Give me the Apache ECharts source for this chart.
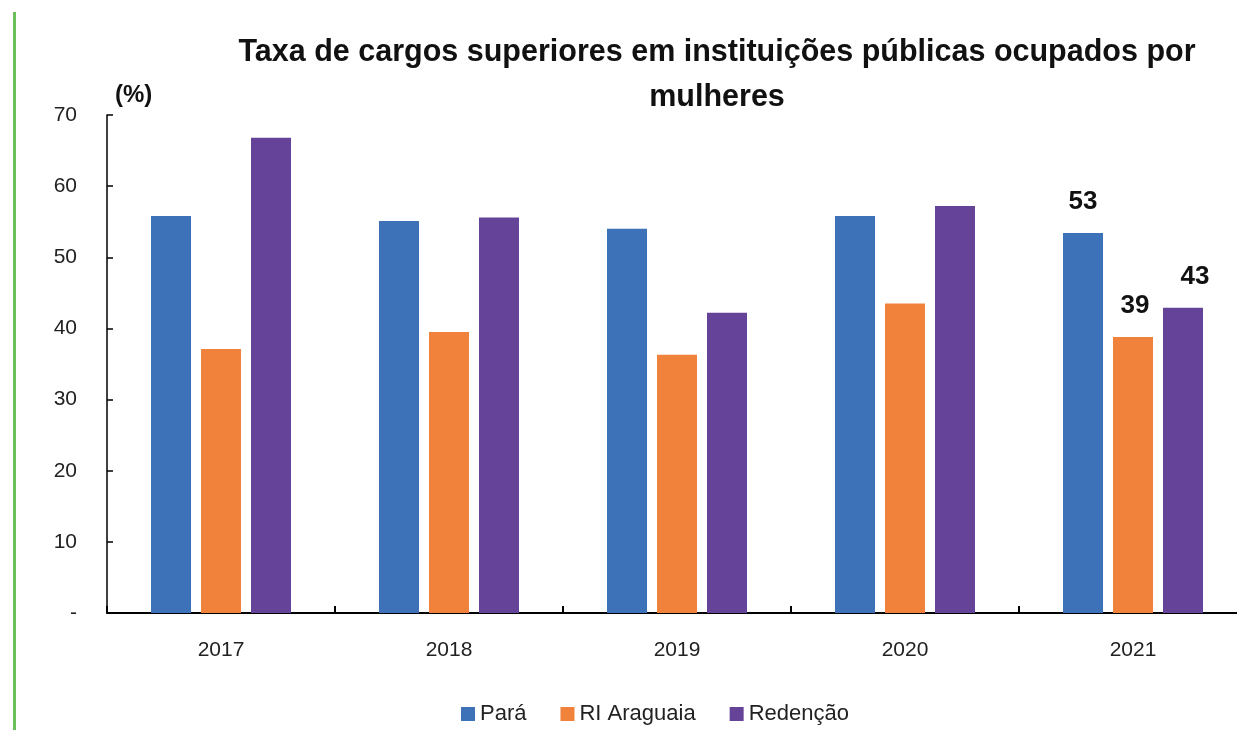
<!DOCTYPE html>
<html>
<head>
<meta charset="utf-8">
<script src="https://cdn.jsdelivr.net/npm/echarts@6/dist/echarts.min.js"></script>
<style>
  html, body { margin: 0; padding: 0; background: #fff; overflow: hidden; }
  /* um pouco mais largo que a janela: o eixo original passa da borda */
  #chart { width: 1248px; height: 730px; }
</style>
</head>
<body>
<div id="chart"></div>
<script>
// dados
var anos = ['2017', '2018', '2019', '2020', '2021']
var para = [55.8, 55.1, 54.0, 55.8, 53.4]
var riAraguaia = [37.1, 39.5, 36.3, 43.5, 38.8]
var redencao = [66.8, 55.6, 42.2, 57.2, 42.9]
var yTicks = [0, 10, 20, 30, 40, 50, 60, 70]

var fonte = 'Liberation Sans, Arial, sans-serif'
var chart = echarts.init(document.getElementById('chart'))

// so o ultimo ano tem rotulo
function comRotulo (arr, offset) {
  return arr.map(function (v, i) {
    if (i !== arr.length - 1) return v
    return {
      value: v,
      label: {
        show: true,
        position: 'top',
        distance: 18,
        offset: offset,
        formatter: function (p) { return Math.round(p.value) },
        fontFamily: fonte,
        fontWeight: 'bold',
        fontSize: 26,
        color: '#111'
      }
    }
  })
}

chart.setOption({
  backgroundColor: '#fff',
  animation: false,
  title: {
    text: 'Taxa de cargos superiores em instituições públicas ocupados por\nmulheres',
    left: 712,
    top: 25,
    textAlign: 'center',
    textStyle: {
      fontFamily: fonte,
      fontWeight: 'bold',
      fontSize: 30.5,
      lineHeight: 45,
      color: '#111'
    }
  },
  legend: {
    bottom: 0,
    left: 456,
    itemWidth: 14,
    itemHeight: 14,
    itemGap: 34,
    icon: 'rect',
    textStyle: { fontFamily: fonte, fontSize: 22, color: '#222' },
    data: ['Pará', 'RI Araguaia', 'Redenção']
  },
  grid: {
    left: 107,
    top: 115,
    right: 1,
    height: 498
  },
  xAxis: {
    type: 'category',
    data: anos,
    axisLine: { lineStyle: { color: '#000', width: 2 } },
    axisTick: { show: true, inside: true, length: 7, lineStyle: { color: '#000', width: 2 } },
    axisLabel: { fontFamily: fonte, fontSize: 21, color: '#222', margin: 27 }
  },
  yAxis: {
    type: 'value',
    min: yTicks[0],
    max: yTicks[yTicks.length - 1],
    interval: 10,
    name: '(%)',
    nameLocation: 'end',
    nameGap: 8,
    nameTextStyle: {
      fontFamily: fonte,
      fontWeight: 'bold',
      fontSize: 24,
      color: '#111',
      align: 'left',
      padding: [0, 0, 0, 8]
    },
    splitLine: { show: false },
    axisLine: { show: true, lineStyle: { color: '#000', width: 1.5 } },
    axisTick: { show: true, inside: true, length: 6, lineStyle: { color: '#000', width: 1.5 } },
    axisLabel: {
      fontFamily: fonte,
      fontSize: 21,
      color: '#222',
      margin: 30,
      formatter: function (v) { return v === 0 ? '-' : v }
    }
  },
  series: [
    {
      name: 'Pará',
      type: 'bar',
      barWidth: 40,
      barGap: '25%',
      itemStyle: { color: '#3e72b8' },
      data: comRotulo(para, [0, 0])
    },
    {
      name: 'RI Araguaia',
      type: 'bar',
      barWidth: 40,
      itemStyle: { color: '#f0823b' },
      data: comRotulo(riAraguaia, [2, 0])
    },
    {
      name: 'Redenção',
      type: 'bar',
      barWidth: 40,
      itemStyle: { color: '#654399' },
      data: comRotulo(redencao, [12, 0])
    }
  ],
  graphic: [
    {
      type: 'rect',
      shape: { x: 13, y: 12, width: 3, height: 718 },
      style: { fill: '#6cc05c' }
    }
  ]
})
</script>
</body>
</html>
